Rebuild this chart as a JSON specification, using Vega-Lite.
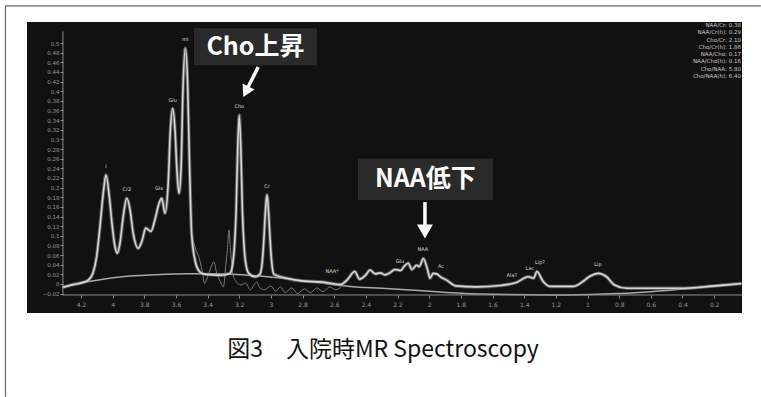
{
  "$schema": "https://vega.github.io/schema/vega-lite/v6.json",
  "width": 715,
  "height": 291,
  "autosize": {"type": "none"},
  "padding": {"left": 27, "top": 22, "right": 19, "bottom": 84},
  "background": "white",
  "config": {"view": {"fill": "#111111", "stroke": null}},
  "datasets": {
    "spectrum": [
      {"ppm": 4.318, "v": -0.007}, {"ppm": 4.25, "v": -0.001}, {"ppm": 4.18, "v": 0.004},
      {"ppm": 4.154, "v": 0.008}, {"ppm": 4.124, "v": 0.023}, {"ppm": 4.101, "v": 0.057},
      {"ppm": 4.08, "v": 0.119}, {"ppm": 4.059, "v": 0.189}, {"ppm": 4.042, "v": 0.226},
      {"ppm": 4.021, "v": 0.181}, {"ppm": 4.002, "v": 0.119}, {"ppm": 3.985, "v": 0.077},
      {"ppm": 3.971, "v": 0.064}, {"ppm": 3.954, "v": 0.084}, {"ppm": 3.933, "v": 0.14},
      {"ppm": 3.911, "v": 0.178}, {"ppm": 3.89, "v": 0.154}, {"ppm": 3.87, "v": 0.105},
      {"ppm": 3.838, "v": 0.074}, {"ppm": 3.813, "v": 0.091}, {"ppm": 3.791, "v": 0.116},
      {"ppm": 3.758, "v": 0.109}, {"ppm": 3.733, "v": 0.133}, {"ppm": 3.707, "v": 0.167},
      {"ppm": 3.69, "v": 0.178}, {"ppm": 3.669, "v": 0.147}, {"ppm": 3.649, "v": 0.209},
      {"ppm": 3.635, "v": 0.32}, {"ppm": 3.621, "v": 0.364}, {"ppm": 3.606, "v": 0.32},
      {"ppm": 3.594, "v": 0.237}, {"ppm": 3.581, "v": 0.188}, {"ppm": 3.568, "v": 0.237},
      {"ppm": 3.556, "v": 0.4}, {"ppm": 3.541, "v": 0.489}, {"ppm": 3.527, "v": 0.423},
      {"ppm": 3.515, "v": 0.257}, {"ppm": 3.501, "v": 0.105}, {"ppm": 3.48, "v": 0.05},
      {"ppm": 3.459, "v": 0.029}, {"ppm": 3.429, "v": 0.021}, {"ppm": 3.374, "v": 0.019},
      {"ppm": 3.32, "v": 0.018}, {"ppm": 3.26, "v": 0.022}, {"ppm": 3.24, "v": 0.045},
      {"ppm": 3.23, "v": 0.08}, {"ppm": 3.22, "v": 0.15}, {"ppm": 3.21, "v": 0.28},
      {"ppm": 3.2, "v": 0.35}, {"ppm": 3.19, "v": 0.28}, {"ppm": 3.18, "v": 0.15},
      {"ppm": 3.17, "v": 0.08}, {"ppm": 3.16, "v": 0.045}, {"ppm": 3.14, "v": 0.022},
      {"ppm": 3.1, "v": 0.015}, {"ppm": 3.07, "v": 0.02}, {"ppm": 3.055, "v": 0.045},
      {"ppm": 3.045, "v": 0.09}, {"ppm": 3.035, "v": 0.15}, {"ppm": 3.025, "v": 0.185},
      {"ppm": 3.015, "v": 0.15}, {"ppm": 3.005, "v": 0.09}, {"ppm": 2.995, "v": 0.045},
      {"ppm": 2.98, "v": 0.02}, {"ppm": 2.9, "v": 0.012}, {"ppm": 2.8, "v": 0.006},
      {"ppm": 2.67, "v": 0.004}, {"ppm": 2.56, "v": -0.001}, {"ppm": 2.52, "v": 0.008},
      {"ppm": 2.47, "v": 0.026}, {"ppm": 2.44, "v": 0.01}, {"ppm": 2.4, "v": 0.019},
      {"ppm": 2.374, "v": 0.029}, {"ppm": 2.34, "v": 0.021}, {"ppm": 2.31, "v": 0.023},
      {"ppm": 2.28, "v": 0.019}, {"ppm": 2.25, "v": 0.023}, {"ppm": 2.216, "v": 0.03},
      {"ppm": 2.18, "v": 0.028}, {"ppm": 2.16, "v": 0.036}, {"ppm": 2.132, "v": 0.043},
      {"ppm": 2.11, "v": 0.03}, {"ppm": 2.08, "v": 0.039}, {"ppm": 2.063, "v": 0.036},
      {"ppm": 2.037, "v": 0.053}, {"ppm": 2.01, "v": 0.029}, {"ppm": 1.995, "v": 0.012},
      {"ppm": 1.975, "v": 0.022}, {"ppm": 1.953, "v": 0.021}, {"ppm": 1.93, "v": 0.015},
      {"ppm": 1.89, "v": 0.008}, {"ppm": 1.83, "v": -0.004}, {"ppm": 1.7, "v": -0.006},
      {"ppm": 1.55, "v": -0.003}, {"ppm": 1.45, "v": 0.003}, {"ppm": 1.374, "v": 0.015},
      {"ppm": 1.34, "v": 0.012}, {"ppm": 1.32, "v": 0.026}, {"ppm": 1.28, "v": 0.005},
      {"ppm": 1.237, "v": -0.005}, {"ppm": 1.09, "v": -0.005}, {"ppm": 1.03, "v": 0.005},
      {"ppm": 0.99, "v": 0.015}, {"ppm": 0.93, "v": 0.022}, {"ppm": 0.88, "v": 0.015},
      {"ppm": 0.83, "v": -0.002}, {"ppm": 0.75, "v": -0.009}, {"ppm": 0.42, "v": -0.009},
      {"ppm": 0.2, "v": -0.004}, {"ppm": 0.027, "v": 0.001}
    ],
    "baseline": [
      {"ppm": 4.318, "v": -0.007}, {"ppm": 4.13, "v": 0.006}, {"ppm": 3.94, "v": 0.015},
      {"ppm": 3.73, "v": 0.019}, {"ppm": 3.52, "v": 0.021}, {"ppm": 3.35, "v": 0.021},
      {"ppm": 3.1, "v": 0.017}, {"ppm": 2.9, "v": 0.011}, {"ppm": 2.7, "v": 0.003},
      {"ppm": 2.5, "v": -0.005}, {"ppm": 2.3, "v": -0.009}, {"ppm": 2.0, "v": -0.015},
      {"ppm": 1.8, "v": -0.019}, {"ppm": 1.5, "v": -0.022}, {"ppm": 1.2, "v": -0.023},
      {"ppm": 0.9, "v": -0.021}, {"ppm": 0.6, "v": -0.016}, {"ppm": 0.3, "v": -0.008},
      {"ppm": 0.03, "v": 0.0}
    ],
    "residual": [
      {"ppm": 3.5, "v": 0.1}, {"ppm": 3.48, "v": 0.077}, {"ppm": 3.45, "v": 0.05},
      {"ppm": 3.43, "v": 0.02}, {"ppm": 3.42, "v": 0.001}, {"ppm": 3.4, "v": 0.015},
      {"ppm": 3.385, "v": 0.029}, {"ppm": 3.36, "v": 0.046}, {"ppm": 3.345, "v": 0.026},
      {"ppm": 3.32, "v": 0.005}, {"ppm": 3.3, "v": -0.006}, {"ppm": 3.285, "v": 0.04},
      {"ppm": 3.275, "v": 0.07}, {"ppm": 3.265, "v": 0.112}, {"ppm": 3.255, "v": 0.07},
      {"ppm": 3.24, "v": 0.02}, {"ppm": 3.22, "v": 0.005}, {"ppm": 3.19, "v": -0.002},
      {"ppm": 3.16, "v": 0.002}, {"ppm": 3.13, "v": -0.012}, {"ppm": 3.11, "v": -0.004},
      {"ppm": 3.09, "v": 0.004}, {"ppm": 3.07, "v": -0.008}, {"ppm": 3.04, "v": -0.012},
      {"ppm": 3.0, "v": -0.004}, {"ppm": 2.97, "v": -0.015}, {"ppm": 2.94, "v": -0.006},
      {"ppm": 2.91, "v": -0.018}, {"ppm": 2.87, "v": -0.008}, {"ppm": 2.83, "v": -0.02},
      {"ppm": 2.79, "v": -0.01}, {"ppm": 2.75, "v": -0.018}, {"ppm": 2.71, "v": -0.008},
      {"ppm": 2.67, "v": -0.016}, {"ppm": 2.63, "v": -0.006}, {"ppm": 2.59, "v": -0.012},
      {"ppm": 2.55, "v": -0.004}
    ],
    "peaks": [
      {"ppm": 4.042, "v": 0.226, "label": "I"},
      {"ppm": 3.91, "v": 0.178, "label": "Cr2"},
      {"ppm": 3.707, "v": 0.18, "label": "Glx"},
      {"ppm": 3.621, "v": 0.364, "label": "Glu"},
      {"ppm": 3.541, "v": 0.489, "label": "mI"},
      {"ppm": 3.2, "v": 0.35, "label": "Cho"},
      {"ppm": 3.025, "v": 0.185, "label": "Cr"},
      {"ppm": 2.614, "v": 0.008, "label": "NAA*"},
      {"ppm": 2.185, "v": 0.028, "label": "Glu"},
      {"ppm": 2.04, "v": 0.053, "label": "NAA"},
      {"ppm": 1.926, "v": 0.018, "label": "Ac"},
      {"ppm": 1.478, "v": 0.0, "label": "Ala?"},
      {"ppm": 1.364, "v": 0.014, "label": "Lac"},
      {"ppm": 1.3, "v": 0.026, "label": "Lip?"},
      {"ppm": 0.934, "v": 0.022, "label": "Lip"}
    ],
    "ratios": [
      {"name": "NAA/Cr", "t": "NAA/Cr: 0.38"},
      {"name": "NAA/Cr(h)", "t": "NAA/Cr(h): 0.29"},
      {"name": "Cho/Cr", "t": "Cho/Cr: 2.10"},
      {"name": "Cho/Cr(h)", "t": "Cho/Cr(h): 1.86"},
      {"name": "NAA/Cho", "t": "NAA/Cho: 0.17"},
      {"name": "NAA/Cho(h)", "t": "NAA/Cho(h): 0.16"},
      {"name": "Cho/NAA", "t": "Cho/NAA: 5.80"},
      {"name": "Cho/NAA(h)", "t": "Cho/NAA(h): 6.40"}
    ]
  },
  "layer": [
    {
      "layer": [
        {
          "data": {"name": "baseline"},
          "mark": {"type": "line", "interpolate": "monotone", "color": "#a9a9a9", "strokeWidth": 1.5, "clip": true},
          "encoding": {
            "x": {
              "field": "ppm", "type": "quantitative", "title": null,
              "scale": {"domain": [4.541, 0.024], "nice": false, "zero": false},
              "axis": {
                "values": [4.2, 4, 3.8, 3.6, 3.4, 3.2, 3, 2.8, 2.6, 2.4, 2.2, 2, 1.8, 1.6, 1.4, 1.2, 1, 0.8, 0.6, 0.4, 0.2],
                "tickCount": 40,
                "format": ".1~f", "offset": -18, "domain": false, "grid": false, "labelOverlap": false,
                "tickColor": "#8a8a8a", "tickSize": 3, "labelColor": "#9a9a9a",
                "labelFontSize": 6, "labelFont": "DejaVu Sans", "labelPadding": 3, "zindex": 1
              }
            },
            "y": {
              "field": "v", "type": "quantitative", "title": null,
              "scale": {"domain": [-0.0602, 0.5436], "nice": false, "zero": false},
              "axis": {
                "values": [-0.02, 0, 0.02, 0.04, 0.06, 0.08, 0.1, 0.12, 0.14, 0.16, 0.18, 0.2, 0.22, 0.24, 0.26, 0.28, 0.3, 0.32, 0.34, 0.36, 0.38, 0.4, 0.42, 0.44, 0.46, 0.48, 0.5],
                "tickCount": 40,
                "format": ".2~f", "offset": -36, "domain": false, "grid": false, "labelOverlap": false,
                "tickColor": "#8a8a8a", "tickSize": 3, "labelColor": "#9a9a9a",
                "labelFontSize": 5.5, "labelFont": "DejaVu Sans", "labelPadding": 1, "zindex": 1
              }
            }
          }
        },
        {
          "data": {"name": "residual"},
          "mark": {"type": "line", "interpolate": "monotone", "color": "#7a7a7a", "strokeWidth": 1, "clip": true},
          "encoding": {
            "x": {"field": "ppm", "type": "quantitative", "title": null},
            "y": {"field": "v", "type": "quantitative", "title": null}
          }
        },
        {
          "data": {"name": "spectrum"},
          "mark": {"type": "line", "interpolate": "monotone", "color": "#8a8a8a", "strokeWidth": 3.5, "opacity": 0.6, "clip": true},
          "encoding": {
            "x": {"field": "ppm", "type": "quantitative", "title": null},
            "y": {"field": "v", "type": "quantitative", "title": null}
          }
        },
        {
          "data": {"name": "spectrum"},
          "mark": {"type": "line", "interpolate": "monotone", "color": "#d6d6d6", "strokeWidth": 1.6, "clip": true},
          "encoding": {
            "x": {"field": "ppm", "type": "quantitative", "title": null},
            "y": {"field": "v", "type": "quantitative", "title": null}
          }
        },
        {
          "data": {"name": "peaks"},
          "mark": {"type": "text", "fontSize": 5, "font": "DejaVu Sans", "color": "#dddddd", "dy": -6, "baseline": "bottom"},
          "encoding": {
            "x": {"field": "ppm", "type": "quantitative", "title": null},
            "y": {"field": "v", "type": "quantitative", "title": null},
            "text": {"field": "label"}
          }
        },
        {
          "data": {"values": [{}]},
          "mark": {"type": "rule", "color": "#8c8c8c", "strokeWidth": 1, "clip": false},
          "encoding": {
            "x": {"datum": 4.318, "type": "quantitative"},
            "x2": {"datum": 0.024},
            "y": {"datum": -0.0228, "type": "quantitative"}
          }
        },
        {
          "data": {"values": [{}]},
          "mark": {"type": "rule", "color": "#8c8c8c", "strokeWidth": 1, "clip": false},
          "encoding": {
            "x": {"datum": 4.314, "type": "quantitative"},
            "y": {"datum": -0.0228, "type": "quantitative"},
            "y2": {"datum": 0.524}
          }
        },
        {
          "data": {"values": [{}]},
          "mark": {"type": "rule", "color": "#666666", "strokeWidth": 1.2, "clip": false},
          "encoding": {
            "x": {"datum": 4.677, "type": "quantitative"},
            "y": {"datum": -0.234, "type": "quantitative"},
            "y2": {"datum": 0.5772}
          }
        },
        {
          "data": {"values": [{}]},
          "mark": {"type": "rule", "color": "#666666", "strokeWidth": 1.2, "clip": false},
          "encoding": {
            "x": {"datum": 4.677, "type": "quantitative"},
            "x2": {"datum": -0.095},
            "y": {"datum": 0.5772, "type": "quantitative"}
          }
        },
        {
          "data": {"values": [{}]},
          "mark": {"type": "text", "text": "図3　入院時MR Spectroscopy", "font": "Noto Sans CJK JP", "fontSize": 23, "color": "#111111", "align": "center", "baseline": "middle", "clip": false},
          "encoding": {
            "x": {"datum": 2.292, "type": "quantitative"},
            "y": {"datum": -0.1368, "type": "quantitative"}
          }
        },
        {
          "data": {"values": [{}]},
          "mark": {"type": "rect", "color": "#2a2a2a"},
          "encoding": {
            "x": {"datum": 3.486, "type": "quantitative"},
            "x2": {"datum": 2.709},
            "y": {"datum": 0.5306, "type": "quantitative"},
            "y2": {"datum": 0.4539}
          }
        },
        {
          "data": {"values": [{}]},
          "mark": {"type": "text", "text": "Cho上昇", "font": "Noto Sans CJK JP", "fontWeight": "bold", "fontSize": 25, "color": "white", "align": "center", "baseline": "middle"},
          "encoding": {
            "x": {"datum": 3.098, "type": "quantitative"},
            "y": {"datum": 0.4922, "type": "quantitative"}
          }
        },
        {
          "data": {"values": [{}]},
          "mark": {"type": "rule", "color": "white", "strokeWidth": 3.5},
          "encoding": {
            "x": {"datum": 3.08, "type": "quantitative"},
            "x2": {"datum": 3.145},
            "y": {"datum": 0.4504, "type": "quantitative"},
            "y2": {"datum": 0.4083}
          }
        },
        {
          "data": {"values": [{}]},
          "mark": {"type": "point", "shape": "triangle-down", "filled": true, "color": "white", "opacity": 1, "size": 180, "angle": 26.6},
          "encoding": {
            "x": {"datum": 3.158, "type": "quantitative"},
            "y": {"datum": 0.399, "type": "quantitative"}
          }
        },
        {
          "data": {"values": [{}]},
          "mark": {"type": "rect", "color": "#2a2a2a"},
          "encoding": {
            "x": {"datum": 2.45, "type": "quantitative"},
            "x2": {"datum": 1.597},
            "y": {"datum": 0.2605, "type": "quantitative"},
            "y2": {"datum": 0.1741}
          }
        },
        {
          "data": {"values": [{}]},
          "mark": {"type": "text", "text": "NAA低下", "font": "Noto Sans CJK JP", "fontWeight": "bold", "fontSize": 25, "color": "white", "align": "center", "baseline": "middle"},
          "encoding": {
            "x": {"datum": 2.024, "type": "quantitative"},
            "y": {"datum": 0.2176, "type": "quantitative"}
          }
        },
        {
          "data": {"values": [{}]},
          "mark": {"type": "rule", "color": "white", "strokeWidth": 3.5},
          "encoding": {
            "x": {"datum": 2.027, "type": "quantitative"},
            "y": {"datum": 0.1699, "type": "quantitative"},
            "y2": {"datum": 0.1223}
          }
        },
        {
          "data": {"values": [{}]},
          "mark": {"type": "point", "shape": "triangle-down", "filled": true, "color": "white", "opacity": 1, "size": 256},
          "encoding": {
            "x": {"datum": 2.027, "type": "quantitative"},
            "y": {"datum": 0.1088, "type": "quantitative"}
          }
        }
      ]
    },
    {
      "data": {"name": "ratios"},
      "mark": {"type": "text", "align": "right", "baseline": "middle", "fontSize": 5.5, "font": "DejaVu Sans", "color": "#c8c8c8"},
      "encoding": {
        "x": {"datum": 0.031, "type": "quantitative"},
        "y": {"field": "name", "type": "ordinal", "sort": null, "scale": {"type": "point", "range": [3, 54], "padding": 0}, "axis": null},
        "text": {"field": "t"}
      }
    }
  ],
  "resolve": {"scale": {"y": "independent"}}
}
